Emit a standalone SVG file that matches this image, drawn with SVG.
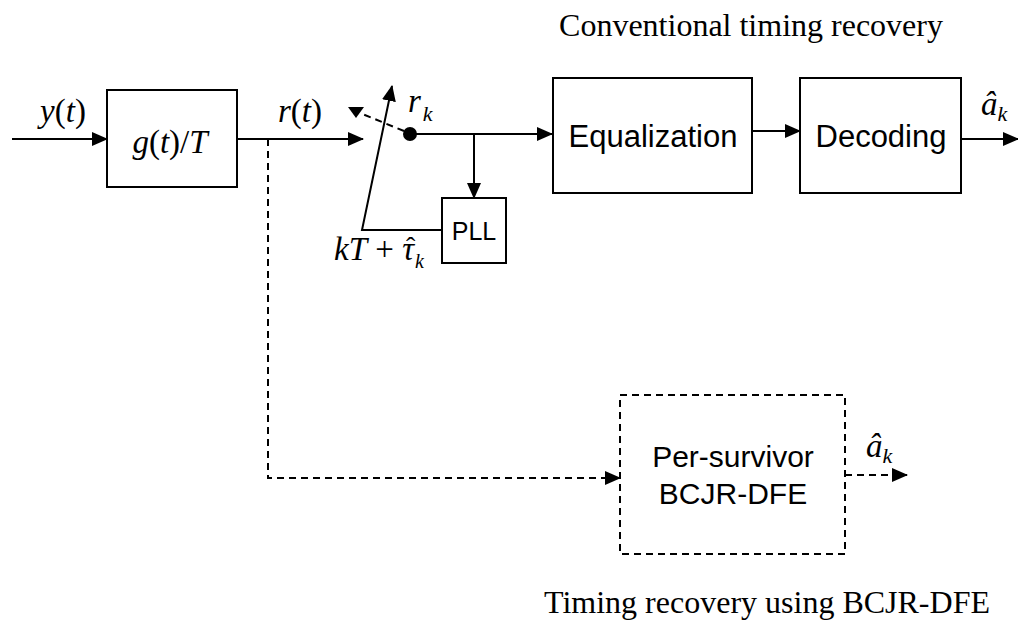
<svg xmlns="http://www.w3.org/2000/svg" width="1018" height="620" viewBox="0 0 1018 620">
<defs>
<style>
.ln{stroke:#000;stroke-width:2;fill:none}
.dash{stroke:#000;stroke-width:2;fill:none;stroke-dasharray:7 5}
.box{stroke:#000;stroke-width:2;fill:#fff}
.dbox{stroke:#000;stroke-width:2;fill:#fff;stroke-dasharray:7 5}
.sans{font-family:"Liberation Sans",Arial,sans-serif;fill:#000}
.serif{font-family:"Liberation Serif","Times New Roman",serif;fill:#000}
.m{font-family:"Liberation Serif","Times New Roman",serif;fill:#000;font-size:33px}
.i{font-style:italic}
</style>
<marker id="ahb" markerWidth="16" markerHeight="14" refX="15" refY="7" orient="auto" markerUnits="userSpaceOnUse" viewBox="0 0 16 14">
<path d="M0,0 L16,7 L0,14 Z" fill="#000"/>
</marker>
</defs>
<rect width="1018" height="620" fill="#fff"/>

<g id="connectors">
<line class="ln" x1="12" y1="139" x2="107" y2="139" marker-end="url(#ahb)"/>
<line class="ln" x1="237" y1="139" x2="363" y2="139" marker-end="url(#ahb)"/>
<polyline class="dash" points="268,139 268,478 620,478" marker-end="url(#ahb)"/>
<line class="ln" x1="410" y1="134" x2="552" y2="134" marker-end="url(#ahb)"/>
<line class="ln" x1="474" y1="134" x2="474" y2="198" marker-end="url(#ahb)"/>
<polyline class="ln" points="442,230 362,230 392,86" marker-end="url(#ahb)"/>
<line class="dash" x1="404" y1="131" x2="360" y2="113"/>
<path d="M348,107 L364,107 L356,118 Z" fill="#000"/>
<circle cx="410" cy="134" r="7" fill="#000"/>
<line class="ln" x1="752" y1="131" x2="800" y2="131" marker-end="url(#ahb)"/>
<line class="ln" x1="961" y1="139" x2="1018" y2="139" marker-end="url(#ahb)"/>
<line class="dash" x1="845" y1="475" x2="907" y2="475" marker-end="url(#ahb)"/>
</g>

<g id="node-g">
<rect class="box" x="107" y="90" width="130" height="97"/>
<text class="m" x="170" y="153" text-anchor="middle" font-size="35"><tspan class="i">g</tspan>(<tspan class="i">t</tspan>)/<tspan class="i">T</tspan></text>
</g>

<g id="node-pll">
<rect class="box" x="442" y="198" width="64" height="65"/>
<text class="sans" x="474" y="240" font-size="25" text-anchor="middle">PLL</text>
</g>

<g id="node-eq">
<rect class="box" x="553" y="78" width="199" height="115"/>
<text class="sans" x="653" y="147" font-size="31" text-anchor="middle">Equalization</text>
</g>

<g id="node-dec">
<rect class="box" x="800" y="78" width="161" height="115"/>
<text class="sans" x="881" y="147" font-size="31" text-anchor="middle">Decoding</text>
</g>

<g id="node-ps">
<rect class="dbox" x="620" y="395" width="225" height="159"/>
<text class="sans" x="733" y="467" font-size="30" text-anchor="middle">Per-survivor</text>
<text class="sans" x="733" y="504" font-size="30" text-anchor="middle">BCJR-DFE</text>
</g>

<g id="labels">
<text class="m" x="63" y="122" text-anchor="middle" font-size="35"><tspan class="i">y</tspan>(<tspan class="i">t</tspan>)</text>
<text class="m" x="300" y="122" text-anchor="middle" font-size="35"><tspan class="i">r</tspan>(<tspan class="i">t</tspan>)</text>
<text class="m" x="408" y="112" font-size="35"><tspan class="i">r</tspan><tspan class="i" font-size="22" dx="2" dy="9">k</tspan></text>
<text class="m" x="334" y="260"><tspan class="i">kT</tspan> + <tspan class="i">τ</tspan><tspan class="i" font-size="20" dx="1" dy="8">k</tspan><tspan x="406" y="256" font-size="28">ˆ</tspan></text>
<text class="m" x="981" y="115" font-size="36"><tspan class="i">â</tspan><tspan class="i" font-size="22" dy="6">k</tspan></text>
<text class="m" x="866" y="457" font-size="36"><tspan class="i">â</tspan><tspan class="i" font-size="22" dy="6">k</tspan></text>
<text class="serif" x="751" y="36" font-size="32" text-anchor="middle">Conventional timing recovery</text>
<text class="serif" x="767" y="613" font-size="32" text-anchor="middle">Timing recovery using BCJR-DFE</text>
</g>
</svg>
